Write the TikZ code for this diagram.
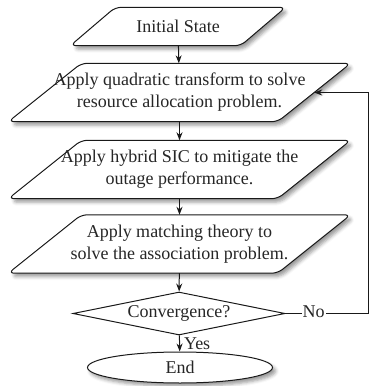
\documentclass[tikz,border=0pt]{standalone}
\usepackage{fontspec}
\setmainfont{Liberation Serif}
\usetikzlibrary{shapes.geometric,arrows.meta,shadows.blur,backgrounds}
\newcommand{\parabox}[2]{%
  \path[pshape] ([xshift=#2]#1.north west) -- ([xshift=#2]#1.north east)
    -- ([xshift=-#2]#1.south east) -- ([xshift=-#2]#1.south west) -- cycle;}
\begin{document}
\begin{tikzpicture}[x=1pt,y=-1pt,
  ptext/.style={align=center, inner sep=0pt, font=\fontsize{18}{22}\selectfont, text=black!85},
  shad/.style={blur shadow={shadow xshift=3pt, shadow yshift=-3.5pt, shadow blur radius=3.5pt, shadow opacity=40}},
  pshape/.style={draw=black!90, line width=1pt, fill=white, rounded corners=6pt, shad},
  arr/.style={-{Stealth[length=8pt,width=6pt]}, line width=1pt, draw=black!90},
  lbl/.style={fill=white, inner sep=1pt, font=\fontsize{18}{22}\selectfont, text=black!85}]
\useasboundingbox (0,0) rectangle (371,386);
\node[ptext, minimum width=170pt, minimum height=38pt] (b1) at (178,26.5) {Initial State};
\node[ptext, minimum width=269pt, minimum height=58pt] (b2) at (179.5,92.5) {Apply quadratic transform to solve\\resource allocation problem.};
\node[ptext, minimum width=269pt, minimum height=58pt] (b3) at (179.5,169.5) {Apply hybrid SIC to mitigate the\\outage performance.};
\node[ptext, minimum width=269pt, minimum height=58pt] (b4) at (179.5,244) {Apply matching theory to\\solve the association problem.};
\node[ptext, shape=diamond, draw=black!90, line width=1pt, fill=white, minimum width=212pt, minimum height=43pt, aspect=4.9] (dia) at (179,313.5) {Convergence?};
\node[ptext, shape=ellipse, draw=black!90, line width=1pt, fill=white, minimum width=185pt, minimum height=31pt, shad] (end) at (180,367.5) {End};
\begin{scope}[on background layer]
\parabox{b1}{22.5pt}
\parabox{b2}{36.5pt}
\parabox{b3}{36.5pt}
\parabox{b4}{36.5pt}
\end{scope}
\coordinate (fb) at (368,313.5);
\draw[arr] (b1) -- (b2);
\draw[arr] (b2) -- (b3);
\draw[arr] (b3) -- (b4);
\draw[arr] (b4) -- (dia);
\draw[arr] (dia) -- node[lbl, anchor=west, xshift=3pt, fill=none] {Yes} (end);
\draw[arr] (dia.east) -- node[lbl, pos=0.34, yshift=2pt] {No} (fb) |- (b2.east);
\end{tikzpicture}
\end{document}
